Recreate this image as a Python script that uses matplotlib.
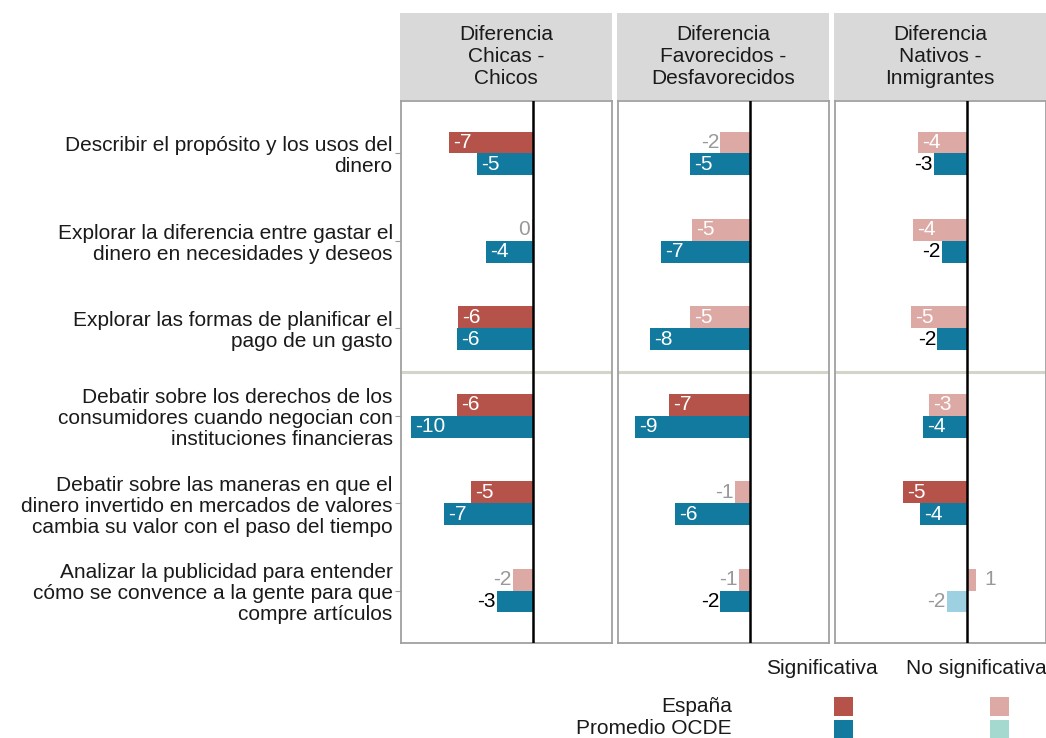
"""Diferencias en oportunidades de aprendizaje financiero: España frente a la OCDE."""

import matplotlib

matplotlib.use("Agg")
import matplotlib.pyplot as plt
from matplotlib.patches import Rectangle

plt.rcParams["font.family"] = ["Liberation Sans", "DejaVu Sans"]

# --- datos -------------------------------------------------------------
items = [
    "Describir el propósito y los usos del\ndinero",
    "Explorar la diferencia entre gastar el\ndinero en necesidades y deseos",
    "Explorar las formas de planificar el\npago de un gasto",
    "Debatir sobre los derechos de los\nconsumidores cuando negocian con\ninstituciones financieras",
    "Debatir sobre las maneras en que el\ndinero invertido en mercados de valores\ncambia su valor con el paso del tiempo",
    "Analizar la publicidad para entender\ncómo se convence a la gente para que\ncompre artículos",
]

panel_titles = [
    "Diferencia\nChicas -\nChicos",
    "Diferencia\nFavorecidos -\nDesfavorecidos",
    "Diferencia\nNativos -\nInmigrantes",
]

espana_values = [
    [-6.9, -0.1, -6.1, -6.2, -5.1, -1.6],
    [-2.4, -4.7, -4.9, -6.6, -1.2, -0.9],
    [-4.0, -4.4, -4.6, -3.1, -5.2, 0.8],
]
ocde_values = [
    [-4.6, -3.8, -6.2, -10.0, -7.3, -2.9],
    [-4.9, -7.3, -8.2, -9.4, -6.1, -2.4],
    [-2.7, -2.0, -2.4, -3.6, -3.8, -1.6],
]
espana_sig = [
    [True, False, True, True, True, False],
    [False, False, False, True, False, False],
    [False, False, False, False, True, False],
]
ocde_sig = [
    [True, True, True, True, True, True],
    [True, True, True, True, True, True],
    [True, True, True, True, True, False],
]

legend_rows = ["España", "Promedio OCDE"]
legend_cols = ["Significativa", "No significativa"]

# --- estilos -----------------------------------------------------------
ESP_SIG = "#b5534a"
ESP_NS = "#dca9a5"
OCDE_SIG = "#117a9e"
OCDE_NS = "#9dd0e1"
OCDE_NS_LEGEND = "#a3d9cf"
STRIP = "#d9d9d9"
BORDER = "#a0a0a0"
FS = 15

W, H = 1046, 738
fig = plt.figure(figsize=(W / 100, H / 100), dpi=100)


def fx(px):
    return px / W


def fy(px):
    return 1 - px / H


panel_left = [401, 618, 835]
panel_width = 211
top, bottom = 101, 643
bar_h = 0.25
rows = list(range(1, len(items) + 1))

for p in range(3):
    ax = fig.add_axes([fx(panel_left[p]), fy(bottom), fx(panel_width),
                       (bottom - top) / H])
    for i, y in enumerate(rows):
        for v, sig, yy, cs, cn in [
            (espana_values[p][i], espana_sig[p][i], y - bar_h / 2, ESP_SIG, ESP_NS),
            (ocde_values[p][i], ocde_sig[p][i], y + bar_h / 2, OCDE_SIG, OCDE_NS),
        ]:
            ax.barh(yy, v, height=bar_h, color=cs if sig else cn, linewidth=0)
            label = f"{round(v):d}"
            if v <= -3:
                ax.annotate(label, (v, yy), xytext=(3, 0), textcoords="offset points",
                            ha="left", va="center", color="white", fontsize=FS)
            elif v <= 0:
                ax.annotate(label, (v, yy), xytext=(-1, 0), textcoords="offset points",
                            ha="right", va="center",
                            color="black" if sig else "#999999", fontsize=FS)
            else:
                ax.annotate(label, (v, yy), xytext=(6, 0), textcoords="offset points",
                            ha="left", va="center",
                            color="black" if sig else "#999999", fontsize=FS)
    ax.axvline(0, color="black", lw=1.8, zorder=3)
    ax.axhline(3.5, color="#d4d4c8", lw=2.2, zorder=0)
    ax.set_xlim(-10.8, 6.5)
    ax.set_ylim(6.6, 0.4)
    ax.set_xticks([])
    for s in ax.spines.values():
        s.set_color(BORDER)
        s.set_linewidth(1.3)
    if p == 0:
        ax.set_yticks(rows)
        ax.set_yticklabels(items, fontsize=FS, color="#1a1a1a", linespacing=1.13)
        ax.tick_params(axis="y", length=4, color="#999999", pad=2)
    else:
        ax.set_yticks([])

    # franja del título del panel
    sx = fig.add_axes([fx(panel_left[p] - 1), fy(100), fx(panel_width + 1), 87 / H])
    sx.set_facecolor(STRIP)
    sx.set_xticks([])
    sx.set_yticks([])
    for s in sx.spines.values():
        s.set_visible(False)
    sx.text(0.5, 0.5, panel_titles[p], ha="center", va="center", fontsize=FS,
            color="#1a1a1a", linespacing=1.2, transform=sx.transAxes)

# --- leyenda -----------------------------------------------------------
col_x = [822, 976]
sq_x = [834, 990]
row_y = [706, 729]
sq_colors = [[ESP_SIG, ESP_NS], [OCDE_SIG, OCDE_NS_LEGEND]]
for c, name in enumerate(legend_cols):
    fig.text(fx(col_x[c]), fy(668), name, ha="center", va="center", fontsize=FS,
             color="#1a1a1a")
for r, name in enumerate(legend_rows):
    fig.text(fx(732), fy(row_y[r]), name, ha="right", va="center", fontsize=FS,
             color="#1a1a1a")
    for c in range(2):
        fig.patches.append(Rectangle((fx(sq_x[c]), fy(row_y[r] + 10)), fx(19), 19 / H,
                                     transform=fig.transFigure,
                                     color=sq_colors[r][c], lw=0))

fig.savefig("out.png", dpi=100)
